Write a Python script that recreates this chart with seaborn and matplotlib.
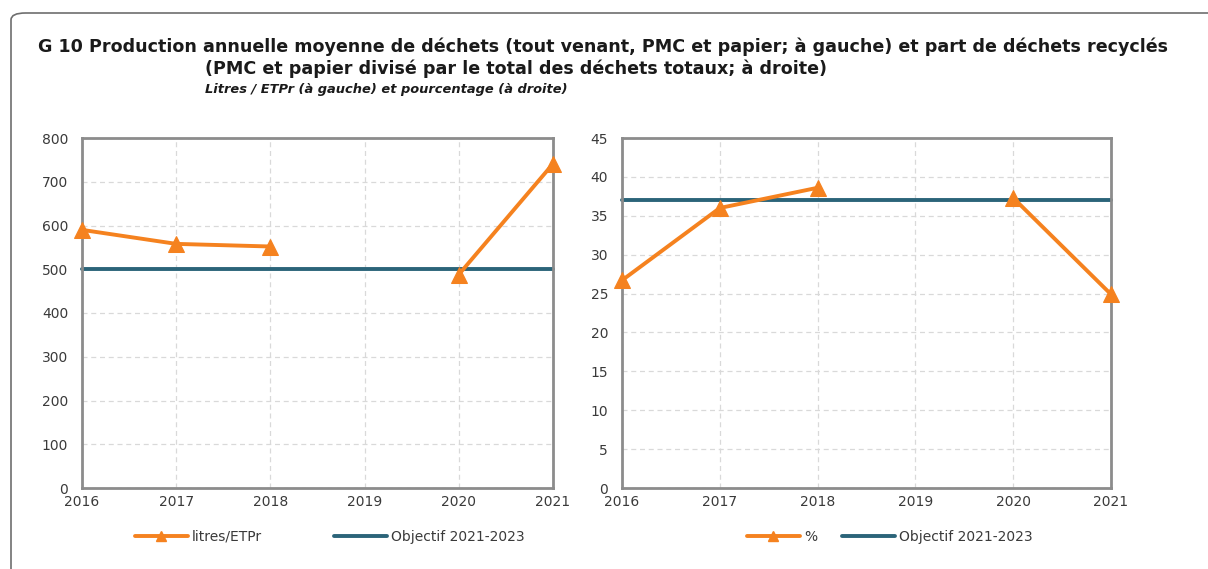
import matplotlib
matplotlib.use("Agg")
import matplotlib.pyplot as plt
from matplotlib.lines import Line2D
from matplotlib.patches import FancyBboxPatch
import numpy as np
import pandas as pd
import seaborn as sns

# data (2019 missing)
years = [2016, 2017, 2018, 2019, 2020, 2021]
litres = [590, 558, 552, np.nan, 488, 741]
pct = [26.7, 36.0, 38.6, np.nan, 37.3, 24.9]
target_litres = 500
target_pct = 37
left_ticks = list(range(0, 801, 100))
right_ticks = list(range(0, 46, 5))

ORANGE = "#f5821f"
TEAL = "#2b6479"
GRID = "#d9d9d9"
SPINE = "#8c8c8c"
TXT = "#3a3a3a"
W, H = 1208, 569

sns.set_style("white")
plt.rcParams["font.family"] = ["DejaVu Sans"]


def segments(values):
    # split series into runs without NaN so the gap stays visible
    seg, out, prev = 0, [], False
    for v in values:
        if np.isnan(v):
            out.append(np.nan)
            prev = False
            continue
        if not prev:
            seg += 1
        out.append(seg)
        prev = True
    return out


def draw_panel(ax, values, target, ticks, label, leg_x, colspace):
    df = pd.DataFrame({"year": years, "value": values, "seg": segments(values)}).dropna()
    sns.lineplot(data=df, x="year", y="value", units="seg", estimator=None,
                 color=ORANGE, linewidth=2.8, marker="^", markersize=11,
                 markeredgecolor=ORANGE, ax=ax, zorder=3)
    tgt = pd.DataFrame({"year": years, "value": [target] * len(years)})
    sns.lineplot(data=tgt, x="year", y="value", color=TEAL, linewidth=2.8, ax=ax, zorder=2)

    ax.set_xlim(years[0], years[-1])
    ax.set_ylim(ticks[0], ticks[-1])
    ax.set_xticks(years)
    ax.set_yticks(ticks)
    ax.set_xlabel("")
    ax.set_ylabel("")
    ax.grid(True, color=GRID, linestyle=(0, (4, 3)), linewidth=0.9)
    for s in ax.spines.values():
        s.set_color(SPINE)
        s.set_linewidth(2)
        s.set_visible(True)
    ax.tick_params(axis="both", colors=SPINE, labelcolor=TXT, labelsize=10,
                   length=4, width=1, direction="out")
    ax.tick_params(axis="x", pad=1)
    ax.tick_params(axis="y", pad=6)
    for l in ax.get_lines():
        l.set_clip_on(False)

    handles = [Line2D([0], [0], color=ORANGE, lw=2.8, marker="^", markersize=7),
               Line2D([0], [0], color=TEAL, lw=2.8)]
    ax.legend(handles, [label, "Objectif 2021-2023"], loc="center left",
              bbox_to_anchor=(leg_x / W, 1 - 537 / H),
              bbox_transform=ax.figure.transFigure,
              ncol=2, frameon=False, fontsize=10, borderpad=0, borderaxespad=0,
              handlelength=3.8, handletextpad=0.3, columnspacing=colspace,
              labelcolor=TXT)


fig = plt.figure(figsize=(W / 100, H / 100), dpi=100)
border = FancyBboxPatch((11 / W, -0.05), 1.2, 1.05 - 13 / H,
                        boxstyle="round,pad=0,rounding_size=0.012",
                        transform=fig.transFigure, fill=False,
                        edgecolor="#6e6e6e", linewidth=1.2)
fig.patches.append(border)

ax1 = fig.add_axes([82 / W, 1 - 488 / H, 471 / W, 350 / H])
ax2 = fig.add_axes([622 / W, 1 - 488 / H, 489 / W, 350 / H])
draw_panel(ax1, litres, target_litres, left_ticks, "litres/ETPr", 135, 5.2)
draw_panel(ax2, pct, target_pct, right_ticks, "%", 747, 1.8)

fig.text(38 / W, 1 - 47 / H,
         "G 10 Production annuelle moyenne de déchets (tout venant, PMC et papier; à gauche) et part de déchets recyclés",
         fontsize=12.6, fontweight="bold", color="#1a1a1a", va="center", ha="left")
fig.text(205 / W, 1 - 69 / H,
         "(PMC et papier divisé par le total des déchets totaux; à droite)",
         fontsize=12.6, fontweight="bold", color="#1a1a1a", va="center", ha="left")
fig.text(205 / W, 1 - 90 / H,
         "Litres / ETPr (à gauche) et pourcentage (à droite)",
         fontsize=9.4, fontweight="bold", style="italic", color="#1a1a1a",
         va="center", ha="left")

fig.savefig("out.png", dpi=100)
